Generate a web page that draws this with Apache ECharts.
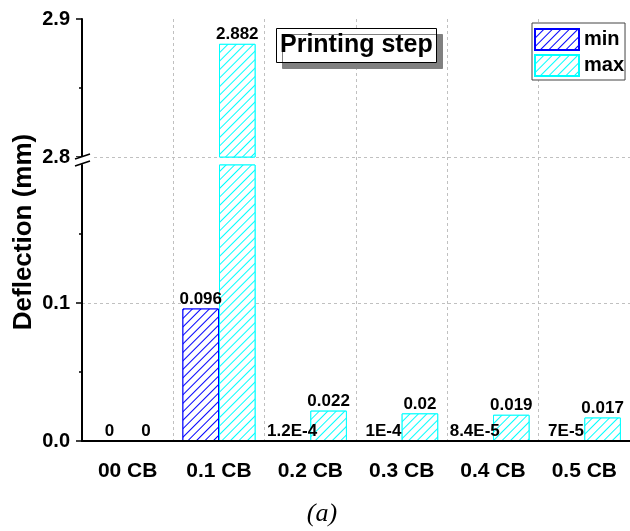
<!DOCTYPE html>
<html>
<head>
<meta charset="utf-8">
<script src="https://cdn.jsdelivr.net/npm/echarts@6/dist/echarts.min.js"></script>
<style>
html,body{margin:0;padding:0;background:#fff;}
#chart{width:630px;height:531px;}
</style>
</head>
<body>
<div id="chart"></div>
<script>
// ---- data ----
const categories = ['00 CB', '0.1 CB', '0.2 CB', '0.3 CB', '0.4 CB', '0.5 CB'];
const minValues = [0, 0.096, 1.2e-4, 1e-4, 8.4e-5, 7e-5];
const maxValues = [0, 2.882, 0.022, 0.02, 0.019, 0.017];
const lowerRange = [0, 0.2];     // lower segment of broken axis
const upperRange = [2.8, 2.9];   // upper segment of broken axis
const lowerTickLabels = [0, 0.1];
const upperTickLabels = [2.8, 2.9];
const seriesNames = ['min', 'max'];

const minColor = '#0000ff';
const maxColor = '#00ffff';
function hatchDecal(color) {
  return {
    symbol: 'rect', symbolSize: 1,
    color: color, backgroundColor: '#ffffff',
    dashArrayX: [1, 0], dashArrayY: [1, 5],
    rotation: -Math.PI / 4
  };
}

const FONT = 'Liberation Sans, Arial, sans-serif';
function fmt(v) {
  if (v === 0) return '0';
  if (Math.abs(v) < 0.001) return v.toExponential().toUpperCase();
  return String(v);
}

const labelBase = {
  show: true, position: 'top', distance: 1,
  fontFamily: FONT, fontWeight: 'bold', fontSize: 17, color: '#000'
};
const gridLeft = 82, gridRight = -2;
const dashed = { color: '#c0c0c0', type: [3, 3], width: 1 };

function barStyle(color) {
  return { color: '#ffffff', borderColor: color, borderWidth: 1, decal: hatchDecal(color) };
}

const chart = echarts.init(document.getElementById('chart'), null, { renderer: 'canvas' });
chart.setOption({
  animation: false,
  backgroundColor: '#ffffff',
  title: {
    text: 'Printing step',
    left: 276, top: 28,
    padding: [4, 4, 4, 4],
    backgroundColor: '#ffffff',
    borderColor: '#000', borderWidth: 1,
    shadowColor: '#808080', shadowBlur: 0, shadowOffsetX: 6, shadowOffsetY: 6,
    textStyle: { fontFamily: FONT, fontWeight: 'bold', fontSize: 25, color: '#000', lineHeight: 27 }
  },
  legend: {
    data: seriesNames,
    orient: 'vertical',
    left: 532, top: 23,
    padding: [5, 1, 3, 2],
    itemWidth: 44, itemHeight: 21, itemGap: 3,
    borderColor: '#444', borderWidth: 1,
    backgroundColor: '#fff',
    icon: 'rect',
    textStyle: { fontFamily: FONT, fontWeight: 'bold', fontSize: 20, color: '#000', lineHeight: 21 }
  },
  grid: [
    { left: gridLeft, right: gridRight, top: 165, bottom: 90 },   // lower
    { left: gridLeft, right: gridRight, top: 19, height: 138 },   // upper
    { left: gridLeft, right: gridRight, top: 19, bottom: 90 }     // vertical gridlines
  ],
  xAxis: [
    {
      type: 'category', gridIndex: 0, data: categories, z: 5,
      axisLine: { lineStyle: { color: '#000', width: 2 } },
      axisTick: { alignWithLabel: true, length: 6, lineStyle: { color: '#000', width: 1.5 } },
      axisLabel: { fontFamily: FONT, fontWeight: 'bold', fontSize: 21, color: '#000', margin: 20 },
      splitLine: { show: false }
    },
    {
      type: 'category', gridIndex: 1, data: categories, show: false
    },
    {
      type: 'category', gridIndex: 2, data: categories,
      axisLine: { show: false }, axisTick: { show: false }, axisLabel: { show: false },
      splitLine: { show: true, lineStyle: dashed }
    }
  ],
  yAxis: [
    {
      type: 'value', gridIndex: 0, min: lowerRange[0], max: lowerRange[1], interval: 0.1,
      axisLine: { show: true, lineStyle: { color: '#000', width: 2 } },
      axisTick: { show: true, length: 6, customValues: lowerTickLabels, lineStyle: { color: '#000', width: 1.5 } },
      minorTick: { show: true, splitNumber: 2, length: 3, lineStyle: { color: '#000', width: 1.5 } },
      axisLabel: {
        customValues: lowerTickLabels,
        formatter: v => v.toFixed(1),
        fontFamily: FONT, fontWeight: 'bold', fontSize: 20, color: '#000', margin: 12
      },
      splitLine: { show: true, showMinLine: false, showMaxLine: true, lineStyle: dashed }
    },
    {
      type: 'value', gridIndex: 1, min: upperRange[0], max: upperRange[1], interval: 0.1,
      axisLine: { show: true, lineStyle: { color: '#000', width: 2 } },
      axisTick: { show: true, length: 6, lineStyle: { color: '#000', width: 1.5 } },
      minorTick: { show: true, splitNumber: 2, length: 3, lineStyle: { color: '#000', width: 1.5 } },
      axisLabel: {
        formatter: v => v.toFixed(1),
        fontFamily: FONT, fontWeight: 'bold', fontSize: 20, color: '#000', margin: 12
      },
      splitLine: { show: true, showMinLine: true, showMaxLine: false, lineStyle: dashed }
    },
    { type: 'value', gridIndex: 2, show: false, splitLine: { show: false } }
  ],
  series: [
    {
      name: seriesNames[0], type: 'bar', xAxisIndex: 0, yAxisIndex: 0,
      data: minValues, barGap: '0%', barCategoryGap: '20%', clip: true,
      itemStyle: barStyle(minColor),
      label: Object.assign({}, labelBase, { formatter: p => fmt(p.value) })
    },
    {
      name: seriesNames[1], type: 'bar', xAxisIndex: 0, yAxisIndex: 0,
      data: maxValues, barGap: '0%', barCategoryGap: '20%', clip: true,
      itemStyle: barStyle(maxColor),
      label: Object.assign({}, labelBase, { formatter: p => (p.value <= lowerRange[1] ? fmt(p.value) : '') })
    },
    {
      name: seriesNames[0], type: 'bar', xAxisIndex: 1, yAxisIndex: 1,
      data: minValues.map(v => (v >= upperRange[0] ? v : '-')), barGap: '0%', barCategoryGap: '20%', clip: true,
      itemStyle: barStyle(minColor),
      label: Object.assign({}, labelBase, { formatter: p => fmt(p.value) })
    },
    {
      name: seriesNames[1], type: 'bar', xAxisIndex: 1, yAxisIndex: 1,
      data: maxValues.map(v => (v >= upperRange[0] ? v : '-')), barGap: '0%', barCategoryGap: '20%', clip: true,
      itemStyle: barStyle(maxColor),
      label: Object.assign({}, labelBase, { formatter: p => fmt(p.value) })
    }
  ],
  graphic: [
    // axis break marks
    { type: 'rect', shape: { x: 70, y: 157, width: 24, height: 7 }, style: { fill: '#fff' }, z: 99 },
    { type: 'line', shape: { x1: 75, y1: 159, x2: 90, y2: 154 }, style: { stroke: '#000', lineWidth: 1.5 }, z: 100 },
    { type: 'line', shape: { x1: 75, y1: 166, x2: 90, y2: 161 }, style: { stroke: '#000', lineWidth: 1.5 }, z: 100 },
    // y-axis title
    {
      type: 'text', x: 24, y: 232, rotation: Math.PI / 2,
      style: { text: 'Deflection (mm)', fontFamily: FONT, fontWeight: 'bold', fontSize: 26, fill: '#000', align: 'center', verticalAlign: 'middle' }
    },
    // caption
    {
      type: 'text', x: 322, y: 514,
      style: { text: '(a)', fontFamily: 'Liberation Serif, Times New Roman, serif', fontStyle: 'italic', fontSize: 26, fill: '#000', align: 'center', verticalAlign: 'middle' }
    }
  ]
});
</script>
</body>
</html>
